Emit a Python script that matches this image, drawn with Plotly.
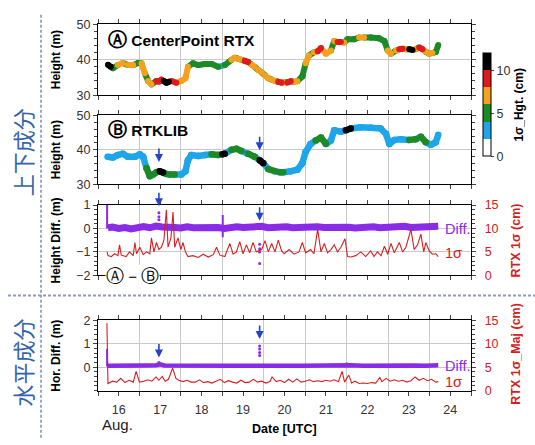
import plotly.graph_objects as go

# ---------------- data ----------------
# Panel A: CenterPoint RTX height (m) and its 1-sigma (cm)
a_t = [15.74,15.81,15.86,15.98,16.10,16.22,16.35,16.47,16.55,16.63,16.71,16.79,16.91,16.97,17.03,17.09,17.15,17.21,17.27,17.39,
       17.51,17.61,17.67,17.79,17.92,18.08,18.24,18.40,18.56,18.72,18.80,18.88,18.96,19.04,19.12,19.20,19.28,19.36,19.45,19.53,
       19.61,19.69,19.77,19.85,19.93,19.99,20.07,20.15,20.23,20.31,20.43,20.51,20.59,20.71,20.80,20.88,21.00,21.12,21.20,21.28,
       21.36,21.44,21.52,21.68,21.80,21.92,22.08,22.28,22.41,22.49,22.57,22.69,22.77,22.85,22.93,23.01,23.09,23.17,23.25,23.33,
       23.41,23.49,23.57,23.65,23.71]
a_h = [38.6,38.0,37.6,38.5,39.1,38.5,38.5,39.1,39.0,36.2,34.0,33.0,34.0,33.8,34.4,34.0,33.5,33.8,34.0,33.5,
       34.0,34.8,38.0,39.0,38.5,38.8,38.8,38.0,38.5,40.0,40.6,40.3,40.0,39.7,39.4,38.7,38.0,37.2,36.4,35.6,
       34.8,34.4,34.0,33.8,33.5,33.7,33.6,33.9,33.8,33.9,35.3,39.0,41.2,42.1,42.4,43.3,41.7,42.6,45.3,45.0,
       45.0,44.9,45.8,45.8,46.3,46.3,46.3,46.1,45.3,42.6,41.7,42.6,43.0,43.1,43.0,43.0,42.8,43.0,43.5,43.0,
       42.3,41.7,41.9,42.2,44.2]
a_s = [11,5,5,7,5,7,5,5,7,5,7,5,9,7,9,11,11,7,9,7,
       7,7,5,5,5,5,5,3,5,7,5,7,5,9,5,7,5,7,5,7,
       5,7,5,9,7,5,9,5,7,5,5,7,5,7,9,7,7,5,7,9,
       7,5,5,5,7,5,5,5,5,7,5,7,9,7,5,11,7,5,9,7,
       5,7,5,5,5]

# Panel B: RTKLIB height (m) and 1-sigma (cm)
b_t = [15.73,15.86,15.98,16.10,16.22,16.39,16.51,16.59,16.67,16.75,16.83,16.91,16.99,17.07,17.15,17.23,17.35,17.51,17.61,17.67,
       17.75,17.92,18.08,18.24,18.40,18.50,18.56,18.72,18.84,18.96,19.12,19.28,19.40,19.49,19.61,19.77,19.89,19.97,20.15,20.31,
       20.43,20.51,20.63,20.75,20.88,21.00,21.12,21.20,21.36,21.48,21.60,21.84,22.08,22.32,22.45,22.53,22.65,22.81,23.01,23.17,
       23.29,23.41,23.53,23.65,23.71]
b_h = [38.0,37.8,38.5,38.9,38.0,38.0,38.7,38.0,34.7,32.3,32.8,33.5,33.8,33.4,33.0,32.8,32.8,32.8,33.8,37.0,
       38.5,38.2,38.5,38.7,38.5,38.7,38.9,40.0,40.3,39.7,38.9,38.0,37.0,36.1,34.4,33.8,33.5,33.5,33.8,34.2,
       36.1,39.4,41.7,42.7,43.6,41.7,42.7,45.7,45.3,45.7,46.2,46.6,46.4,46.2,44.6,41.7,42.9,43.1,42.9,43.1,
       43.8,42.2,41.5,42.2,44.4]
b_s = [3,3,3,3,3,3,3,3,5,3,5,5,11,5,3,5,3,3,3,3,
       3,3,3,5,3,11,3,5,5,3,5,3,11,3,5,3,5,3,3,3,
       3,3,3,5,5,3,3,3,3,11,3,3,3,3,3,3,3,3,5,3,
       5,3,3,3,5]

# Panel C: height difference A-B (m) and RTX height 1-sigma (cm)
c_diff_t = [15.74,15.85,16.0,16.15,16.3,16.45,16.6,16.75,16.9,17.05,17.2,17.35,17.5,17.65,17.8,17.95,18.1,18.25,18.4,18.55,
            18.7,18.85,19.0,19.15,19.3,19.45,19.6,19.75,19.9,20.05,20.2,20.35,20.5,20.65,20.8,20.95,21.1,21.25,21.4,21.55,
            21.7,21.85,22.0,22.15,22.3,22.45,22.6,22.75,22.9,23.05,23.2,23.35,23.5,23.65,23.71]
c_diff_v = [0.03,0.06,0.0,0.04,-0.02,0.05,0.08,0.03,0.1,0.06,0.08,0.04,0.02,0.07,0.03,0.05,0.02,0.06,0.04,0.0,
            0.05,0.07,0.04,0.08,0.05,0.09,0.03,0.06,0.04,0.07,0.03,0.05,0.06,0.02,0.07,0.04,0.06,0.03,0.08,0.05,
            0.02,0.06,0.04,0.07,0.03,0.05,0.02,0.06,0.09,0.04,0.06,0.1,0.05,0.07,0.1]
c_spike_t = [15.72, 18.51]
c_spike_top = [1.0, 0.58]
c_spike_bot = [0.0, -0.37]
c_dot_t = [16.97, 16.97, 16.97, 19.40, 19.40, 19.40, 19.40]
c_dot_v = [0.67, 0.5, 0.37, -0.67, -0.87, -1.0, -1.5]
c_sig_t = [15.72,15.74,15.82,15.90,15.98,16.02,16.06,16.18,16.26,16.35,16.39,16.43,16.51,16.59,16.67,16.75,16.79,16.85,16.91,16.97,
           17.03,17.09,17.15,17.19,17.26,17.31,17.35,17.43,17.50,17.55,17.61,17.67,17.79,17.92,18.04,18.16,18.28,18.36,18.44,18.56,
           18.68,18.76,18.84,18.92,19.00,19.08,19.16,19.24,19.32,19.45,19.53,19.61,19.69,19.77,19.85,19.93,19.99,20.11,20.23,20.35,
           20.43,20.51,20.63,20.71,20.80,20.88,20.96,21.04,21.12,21.20,21.28,21.36,21.46,21.52,21.60,21.72,21.84,21.96,22.08,22.16,
           22.24,22.33,22.41,22.49,22.57,22.65,22.77,22.85,22.93,23.05,23.13,23.21,23.29,23.36,23.41,23.49,23.57,23.65,23.71]
c_sig_v = [5.0,4.2,4.0,4.6,4.2,6.5,4.3,4.0,5.0,4.2,7.0,4.6,6.0,4.4,5.0,4.6,8.0,5.0,7.0,5.5,
           6.0,7.5,14.0,6.0,8.0,13.5,6.0,8.0,5.5,7.0,5.0,4.0,4.2,3.8,4.5,3.9,4.4,6.0,4.3,4.0,
           6.8,4.5,5.0,7.2,4.6,6.5,4.8,7.0,5.0,5.5,7.4,5.0,6.8,5.0,7.5,5.2,4.6,5.5,4.5,5.0,
           7.0,4.8,5.5,4.6,9.8,5.0,6.8,4.8,5.5,6.5,5.0,6.0,7.8,4.0,3.9,4.2,5.0,4.0,5.2,4.0,
           5.0,4.2,6.2,4.5,6.8,4.8,7.0,5.0,6.0,9.8,5.5,6.5,8.8,5.0,7.0,5.2,4.5,4.6,4.0]

# Panel D: horizontal difference (m) and RTX 1-sigma major (cm)
d_diff_t = [15.74,16.0,16.3,16.6,16.9,17.0,17.1,17.4,17.7,18.0,18.3,18.6,18.9,19.2,19.5,19.8,20.1,20.4,20.7,21.0,
            21.3,21.6,21.9,22.2,22.5,22.8,23.1,23.4,23.71]
d_diff_v = [0.06,0.05,0.06,0.07,0.08,0.12,0.07,0.06,0.05,0.06,0.05,0.06,0.06,0.07,0.08,0.07,0.06,0.06,0.07,0.06,
            0.07,0.08,0.06,0.07,0.06,0.07,0.07,0.06,0.08]
d_spike_t = [15.72, 21.5]
d_spike_top = [0.78, 0.2]
d_spike_bot = [0.03, 0.05]
d_dot_t = [16.97, 19.40, 19.40, 19.40, 19.40]
d_dot_v = [0.2, 0.9, 0.78, 0.63, 0.5]
d_sig_t = [15.715,15.74,15.85,15.95,16.05,16.15,16.25,16.35,16.42,16.5,16.6,16.7,16.8,16.9,16.97,17.05,17.12,17.2,17.3,17.38,
           17.45,17.55,17.65,17.75,17.85,17.95,18.05,18.15,18.25,18.35,18.45,18.55,18.65,18.75,18.85,18.95,19.05,19.15,19.25,19.35,
           19.45,19.55,19.65,19.7,19.8,19.9,20.0,20.1,20.2,20.3,20.4,20.5,20.6,20.7,20.8,20.9,21.0,21.1,21.2,21.3,
           21.39,21.45,21.55,21.62,21.7,21.8,21.9,22.0,22.1,22.2,22.3,22.35,22.45,22.55,22.65,22.75,22.85,22.95,23.05,23.15,
           23.25,23.35,23.45,23.55,23.65,23.71]
d_sig_v = [14.4,1.5,2.0,1.8,2.6,1.7,2.2,1.8,4.1,1.8,2.0,2.3,2.0,2.9,2.2,3.0,2.0,2.4,4.8,2.6,
           2.2,1.9,2.2,1.8,1.8,2.3,1.7,1.9,1.6,2.0,2.4,1.7,2.1,1.8,1.6,2.2,1.7,1.8,2.4,1.8,
           2.0,1.6,1.9,2.9,1.9,2.2,1.7,2.4,1.8,2.5,1.8,2.0,2.3,1.9,2.1,1.9,2.2,2.0,2.3,1.9,
           4.1,1.8,3.3,1.6,2.0,1.5,1.6,1.5,1.7,1.6,2.8,1.9,2.6,2.0,2.3,2.0,2.2,1.8,2.1,2.9,
           2.2,2.6,2.1,2.4,1.8,1.9]

# events marked by arrows (day) and arrow tip values per panel
event_days = [16.97, 19.40]
arrow_tip_b = [36.5, 39.9]
arrow_tip_c = [0.95, 0.33]
arrow_tip_d = [0.41, 1.2]

# sigma colour classes (cm)
sigma_edges = [0, 2, 4, 6, 8, 10, 12]
sigma_colors = ["#ffffff", "#1ea5ea", "#1c8a26", "#f4a11e", "#e0191b", "#000000"]
sigma_ticks = [0, 5, 10]
day_ticks = [16, 17, 18, 19, 20, 21, 22, 23, 24]

# ---------------- helpers ----------------
W, H = 535, 445
def px(x): return x / W
def py(y): return 1 - y / H

X_DOM = [px(98), px(471)]
DOM_A = [py(91), py(18)]
DOM_B = [py(183), py(112)]
DOM_C = [py(277), py(204.5)]
DOM_D = [py(396), py(323.5)]

PURPLE = "#8a2be8"
RED = "#d42020"
ARROW = "#2444c8"
GRID = "#c9c9c9"
FONT = "Liberation Sans, Arial, sans-serif"
TICKF = dict(family=FONT, size=12.5, color="#333333")

def sigma_class(s):
    for k in range(len(sigma_edges) - 1):
        if s < sigma_edges[k + 1]:
            return k
    return len(sigma_edges) - 2

fig = go.Figure()

def colored_line(t, h, s, xa, ya, width):
    groups = {k: ([], []) for k in range(len(sigma_colors))}
    for i in range(len(t) - 1):
        k = sigma_class(s[i])
        groups[k][0].extend([t[i], t[i + 1], None])
        groups[k][1].extend([h[i], h[i + 1], None])
    for k, (gx, gy) in groups.items():
        if gx:
            fig.add_trace(go.Scatter(x=gx, y=gy, mode="lines+markers", xaxis=xa, yaxis=ya,
                                     line=dict(color=sigma_colors[k], width=width),
                                     marker=dict(color=sigma_colors[k], size=width, line=dict(width=0)),
                                     connectgaps=False, showlegend=False, hoverinfo="skip"))

colored_line(a_t, a_h, a_s, "x", "y", 6)
colored_line(b_t, b_h, b_s, "x2", "y2", 6.5)

# colourbar carrier (invisible markers)
cs = []
n = len(sigma_colors)
for k, c in enumerate(sigma_colors):
    cs.append([k / n, c]); cs.append([(k + 1) / n, c])
fig.add_trace(go.Scatter(x=a_t, y=a_h, mode="markers", xaxis="x", yaxis="y", showlegend=False,
                         hoverinfo="skip",
                         marker=dict(size=1, opacity=0, color=a_s, colorscale=cs,
                                     cmin=sigma_edges[0], cmax=sigma_edges[-1], showscale=True,
                                     colorbar=dict(x=px(483), xanchor="left", y=py(101), yanchor="middle",
                                                   len=106 / H, lenmode="fraction", thickness=8,
                                                   outlinewidth=1, outlinecolor="black",
                                                   tickvals=sigma_ticks, ticks="outside", ticklen=3,
                                                   tickfont=TICKF, xpad=0, ypad=0,
                                                   title=dict(text="<b>1σ_Hgt. (cm)</b>", side="right",
                                                              font=dict(family=FONT, size=12, color="black"))))))

# Panel C
fig.add_trace(go.Scatter(x=c_sig_t, y=c_sig_v, mode="lines", xaxis="x3", yaxis="y5",
                         line=dict(color=RED, width=1.1), showlegend=False, hoverinfo="skip"))
fig.add_trace(go.Scatter(x=c_diff_t, y=c_diff_v, mode="lines", xaxis="x3", yaxis="y3",
                         line=dict(color=PURPLE, width=7), showlegend=False, hoverinfo="skip"))
sx, sy = [], []
for t0, a0, b0 in zip(c_spike_t, c_spike_top, c_spike_bot):
    sx += [t0, t0, None]; sy += [a0, b0, None]
fig.add_trace(go.Scatter(x=sx, y=sy, mode="lines", xaxis="x3", yaxis="y3",
                         line=dict(color=PURPLE, width=2), showlegend=False, hoverinfo="skip"))
fig.add_trace(go.Scatter(x=c_dot_t, y=c_dot_v, mode="markers", xaxis="x3", yaxis="y3",
                         marker=dict(color=PURPLE, size=3), showlegend=False, hoverinfo="skip"))

# Panel D
fig.add_trace(go.Scatter(x=d_sig_t, y=d_sig_v, mode="lines", xaxis="x4", yaxis="y6",
                         line=dict(color=RED, width=1.1), showlegend=False, hoverinfo="skip"))
fig.add_trace(go.Scatter(x=d_diff_t, y=d_diff_v, mode="lines", xaxis="x4", yaxis="y4",
                         line=dict(color=PURPLE, width=4.5), showlegend=False, hoverinfo="skip"))
sx, sy = [], []
for t0, a0, b0 in zip(d_spike_t, d_spike_top, d_spike_bot):
    sx += [t0, t0, None]; sy += [a0, b0, None]
fig.add_trace(go.Scatter(x=sx, y=sy, mode="lines", xaxis="x4", yaxis="y4",
                         line=dict(color=PURPLE, width=2), showlegend=False, hoverinfo="skip"))
fig.add_trace(go.Scatter(x=d_dot_t, y=d_dot_v, mode="markers", xaxis="x4", yaxis="y4",
                         marker=dict(color=PURPLE, size=3), showlegend=False, hoverinfo="skip"))

# ---------------- axes ----------------
def xaxis(anchor, labels):
    return dict(domain=X_DOM, anchor=anchor, range=[15.5, 24.5], tickmode="linear", tick0=day_ticks[0], dtick=1,
                ticks="outside", ticklen=4, tickcolor="#444", showticklabels=labels, tickfont=TICKF,
                showgrid=False, zeroline=False, showline=True, linecolor="black", linewidth=1.3, mirror="ticks",
                minor=dict(tickmode="linear", tick0=15.5, dtick=1, ticks="outside", ticklen=4, tickcolor="#444",
                           showgrid=True, gridcolor=GRID, gridwidth=1),
                ticklabelstandoff=3)

def yaxis(dom, rng, dtick, minor, anchor="x", mirror="ticks", tickvals=None, grid=True):
    d = dict(domain=dom, anchor=anchor, range=rng, ticks="outside", ticklen=4, tickcolor="#444",
             tickfont=TICKF, showgrid=grid, gridcolor=GRID, zeroline=False, showline=True,
             linecolor="black", linewidth=1.3, mirror=mirror,
             minor=dict(ticks="outside", ticklen=2.5, dtick=minor, tickcolor="#444", showgrid=False))
    if tickvals is not None:
        d.update(tickmode="array", tickvals=tickvals)
    else:
        d.update(tickmode="linear", dtick=dtick)
    return d

layout = dict(
    width=W, height=H, margin=dict(l=0, r=0, t=0, b=0),
    paper_bgcolor="white", plot_bgcolor="white", showlegend=False,
    xaxis=xaxis("y", False), xaxis2=xaxis("y2", False), xaxis3=xaxis("y3", False), xaxis4=xaxis("y4", True),
    yaxis=yaxis(DOM_A, [30, 50], 10, 2, "x"),
    yaxis2=yaxis(DOM_B, [30, 50], 10, 2, "x2"),
    yaxis3=yaxis(DOM_C, [-2, 1], 1, 0.2, "x3", mirror=False),
    yaxis4=yaxis(DOM_D, [-1, 2], 1, 0.2, "x4", mirror=False, tickvals=[0, 1, 2]),
)
y5 = yaxis(DOM_C, [0, 15], 5, 1, "x3", mirror=False, grid=False)
y5.update(overlaying="y3", side="right", tickfont=dict(family=FONT, size=12.5, color=RED), ticklabelstandoff=6)
y6 = yaxis(DOM_D, [0, 15], 5, 1, "x4", mirror=False, grid=False)
y6.update(overlaying="y4", side="right", tickfont=dict(family=FONT, size=12.5, color=RED), ticklabelstandoff=6)
layout["yaxis5"] = y5
layout["yaxis6"] = y6
for k in ("xaxis", "xaxis2", "xaxis3"):
    layout[k]["matches"] = "x4"
fig.update_layout(**layout)

# ---------------- annotations ----------------
ann = []
def text(x, y, s, size=12, color="black", angle=0, xanchor="center", bold=False, family=FONT, bg=None):
    d = dict(x=px(x), y=py(y), xref="paper", yref="paper", text=("<b>%s</b>" % s) if bold else s,
             showarrow=False, textangle=angle, xanchor=xanchor, yanchor="middle",
             font=dict(family=family, size=size, color=color))
    if bg:
        d.update(bgcolor=bg, borderpad=0)
    ann.append(d)

def circ(ch, size=19):
    return '<span style="font-size:%dpx;font-family:DejaVu Sans">%s</span>' % (size, ch)

text(106, 33, circ("Ⓐ") + " CenterPoint RTX", size=15.5, bold=True, xanchor="left")
text(106, 126, circ("Ⓑ") + " RTKLIB", size=15.5, bold=True, xanchor="left")
text(105, 277, circ("Ⓐ", 18) + " − " + circ("Ⓑ", 18), size=15, xanchor="left", bg="white")
text(56, 55, "Height (m)", bold=True, angle=-90)
text(56, 148, "Height (m)", bold=True, angle=-90)
text(56, 241, "Height Diff. (m)", bold=True, angle=-90)
text(56, 360, "Hor. Diff. (m)", bold=True, angle=-90)
text(516, 241, "RTX 1σ (cm)", bold=True, angle=-90, color=RED, size=12.5)
text(516, 358, "RTX 1σ_Maj (cm)", bold=True, angle=-90, color=RED, size=12.5)
text(443, 229, "Diff.", size=14.5, color=PURPLE, xanchor="left")
text(443, 254, "1σ", size=14.5, color=RED, xanchor="left")
text(443, 371, "Diff.", size=14.5, color=PURPLE, xanchor="left")
text(443, 387, "1σ", size=14.5, color=RED, xanchor="left")
ann.append(dict(x=px(117), y=py(421), xref="paper", yref="paper", text="Aug.", showarrow=False,
                xanchor="center", yanchor="top", borderpad=0,
                font=dict(family=FONT, size=15, color="#222")))
text(284, 436, "Date [UTC]", size=12.5, bold=True)
cjk = "Noto Sans CJK JP, Noto Sans CJK SC, sans-serif"
text(22, 150, "上下成分", size=22, color="#3564a8", angle=-90, family=cjk)
text(22, 367, "水平成分", size=22, color="#3564a8", angle=-90, family=cjk)

for xa, ya, tips in (("x2", "y2", arrow_tip_b), ("x3", "y3", arrow_tip_c), ("x4", "y4", arrow_tip_d)):
    for d0, tip in zip(event_days, tips):
        ann.append(dict(x=d0, y=tip, xref=xa, yref=ya, text="", showarrow=True, ax=0, ay=-15,
                        arrowhead=2, arrowsize=1, arrowwidth=1.6, arrowcolor=ARROW, standoff=0))
fig.update_layout(annotations=ann)

# dashed separators
fig.update_layout(shapes=[
    dict(type="line", xref="paper", yref="paper", x0=px(41), x1=px(41), y0=py(8), y1=py(445),
         line=dict(color="#7d8fb3", width=1.5, dash="3px,2px")),
    dict(type="line", xref="paper", yref="paper", x0=px(8), x1=px(535), y0=py(298), y1=py(298),
         line=dict(color="#8d9ab8", width=2, dash="3px,2px")),
])

fig.write_html("out.html")
